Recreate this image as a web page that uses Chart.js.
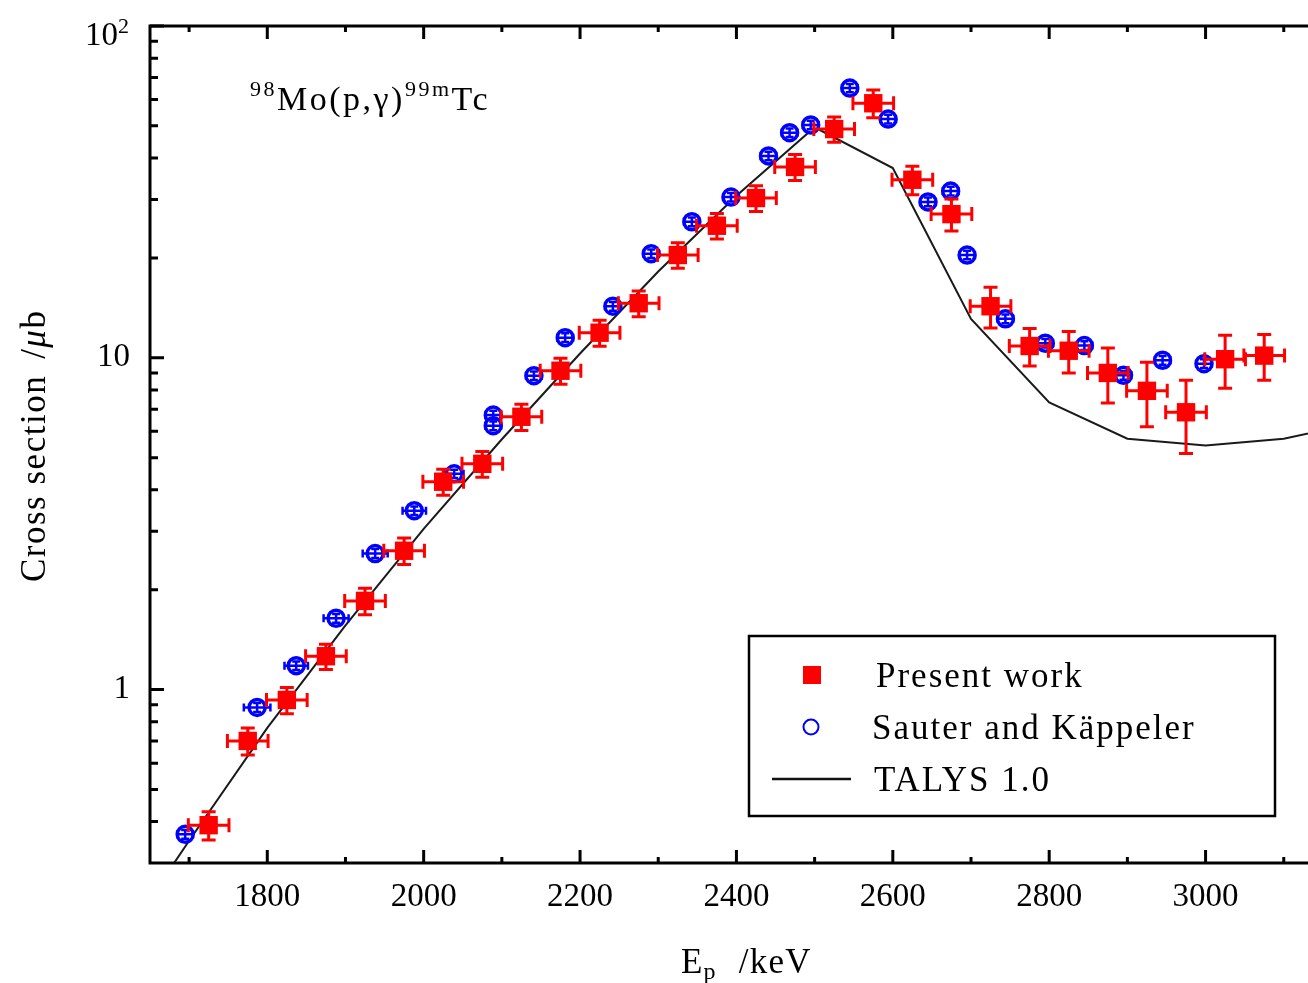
<!DOCTYPE html>
<html>
<head>
<meta charset="utf-8">
<title>98Mo(p,γ)99mTc cross section</title>
<script src="https://cdn.jsdelivr.net/npm/chart.js@4.4.1/dist/chart.umd.min.js"></script>
<style>
    html, body { margin: 0; padding: 0; background: #fff; }
    canvas { display: block; }
</style>
</head>
<body>
<canvas id="crossSectionChart" width="1308" height="983"></canvas>
<script>
// proton energy (keV) and cross section (microbarn)
const present_energy = [1725, 1775, 1825, 1875, 1925, 1975, 2025, 2075, 2125, 2175, 2225, 2275, 2325, 2375,
    2425, 2475, 2525, 2575, 2625, 2675, 2725, 2775, 2825, 2875, 2925, 2975, 3025, 3075];
const present_sigma = [0.39, 0.70, 0.93, 1.26, 1.85, 2.62, 4.23, 4.79, 6.64, 9.14, 11.9, 14.6, 20.4, 25.0,
    30.3, 37.6, 48.9, 58.5, 34.4, 27.1, 14.3, 10.85, 10.5, 9.0, 7.95, 6.85, 9.9, 10.15];
const present_sigma_err = [0.038, 0.065, 0.085, 0.11, 0.17, 0.24, 0.38, 0.43, 0.6, 0.82, 1.07, 1.3, 1.8, 2.2,
    2.7, 3.4, 4.3, 5.6, 3.4, 3.0, 2.0, 1.4, 1.5, 1.7, 1.75, 1.7, 1.8, 1.6];
const present_energy_err = 26;

const sauter_energy = [1695, 1787, 1837, 1888, 1938, 1988, 2039, 2089, 2089, 2141, 2181, 2242, 2291, 2343,
    2393, 2441, 2468, 2495, 2545, 2594, 2645, 2674, 2695, 2744, 2795, 2845, 2895, 2945, 2998];
const sauter_sigma = [0.366, 0.883, 1.18, 1.64, 2.57, 3.46, 4.47, 6.72, 6.24, 8.83, 11.5, 14.3, 20.6, 25.7,
    30.5, 40.6, 47.7, 50.3, 65.0, 52.4, 29.5, 31.8, 20.4, 13.1, 11.06, 10.88, 8.85, 9.83, 9.6];
const sauter_sigma_err = [0.011, 0.027, 0.035, 0.05, 0.08, 0.1, 0.13, 0.2, 0.19, 0.26, 0.35, 0.43, 0.6, 0.77,
    0.9, 1.2, 1.4, 1.5, 1.9, 1.6, 0.9, 0.95, 0.6, 0.4, 0.33, 0.33, 0.27, 0.3, 0.29];
const sauter_energy_err = [10, 17, 15, 16, 16, 15, 12, 10, 10, 10, 10, 10, 10, 10,
    10, 10, 10, 10, 10, 10, 10, 10, 10, 10, 10, 10, 10, 10, 10];

const talys_energy = [1650, 1700, 1800, 1900, 2000, 2100, 2200, 2300, 2400, 2500, 2600, 2700, 2800, 2900, 3000, 3100, 3200];
const talys_sigma = [0.234, 0.350, 0.766, 1.56, 3.05, 5.68, 10.3, 18.2, 30.8, 49.5, 37.3, 13.1, 7.33, 5.70, 5.44, 5.70, 6.4];

const x_major_ticks = [1800, 2000, 2200, 2400, 2600, 2800, 3000];
const x_minor_ticks = [1700, 1900, 2100, 2300, 2500, 2700, 2900, 3100];
const y_major_ticks = [1, 10, 100];
const y_minor_ticks = [0.4, 0.5, 0.6, 0.7, 0.8, 0.9, 2, 3, 4, 5, 6, 7, 8, 9, 20, 30, 40, 50, 60, 70, 80, 90];
const y_tick_labels = {1: '1', 10: '10'};

const serif = '"Liberation Serif", "DejaVu Serif", serif';

function to_points(xs, ys) {
    return xs.map((x, i) => ({x: x, y: ys[i]}));
}

function pick(v, i) {
    return Array.isArray(v) ? v[i] : v;
}

// horizontal + vertical error bars, drawn right after their own dataset
const error_bars = {
    id: 'error_bars',
    afterDatasetDraw(chart, args) {
        const ds = chart.data.datasets[args.index];
        if (!ds.errors) return;
        const e = ds.errors;
        const xs = chart.scales.x;
        const ys = chart.scales.y;
        const ctx = chart.ctx;
        const area = chart.chartArea;
        ctx.save();
        ctx.beginPath();
        ctx.rect(area.left, area.top, area.right - area.left, area.bottom - area.top);
        ctx.clip();
        ctx.strokeStyle = e.color;
        ctx.lineWidth = e.width;
        ctx.lineCap = 'butt';
        ds.data.forEach((p, i) => {
            const px = xs.getPixelForValue(p.x);
            const py = ys.getPixelForValue(p.y);
            const x0 = xs.getPixelForValue(p.x - pick(e.dx, i));
            const x1 = xs.getPixelForValue(p.x + pick(e.dx, i));
            const y0 = ys.getPixelForValue(p.y - pick(e.dy, i));
            const y1 = ys.getPixelForValue(p.y + pick(e.dy, i));
            const c = e.cap;
            ctx.beginPath();
            ctx.moveTo(x0, py); ctx.lineTo(x1, py);
            ctx.moveTo(x0, py - c); ctx.lineTo(x0, py + c);
            ctx.moveTo(x1, py - c); ctx.lineTo(x1, py + c);
            ctx.moveTo(px, y0); ctx.lineTo(px, y1);
            ctx.moveTo(px - c, y0); ctx.lineTo(px + c, y0);
            ctx.moveTo(px - c, y1); ctx.lineTo(px + c, y1);
            ctx.stroke();
        });
        ctx.restore();
    }
};

// box on three sides with inward ticks
const frame_axes = {
    id: 'frame_axes',
    afterDraw(chart) {
        const ctx = chart.ctx;
        const a = chart.chartArea;
        const xs = chart.scales.x;
        const ys = chart.scales.y;
        ctx.save();
        ctx.strokeStyle = '#000';
        ctx.lineWidth = 3;
        ctx.lineCap = 'square';
        ctx.beginPath();
        ctx.moveTo(a.right + 2, a.top);
        ctx.lineTo(a.left, a.top);
        ctx.lineTo(a.left, a.bottom);
        ctx.lineTo(a.right + 2, a.bottom);
        ctx.stroke();

        ctx.lineCap = 'butt';
        ctx.beginPath();
        const x_tick = (v, len) => {
            const px = xs.getPixelForValue(v);
            ctx.moveTo(px, a.bottom); ctx.lineTo(px, a.bottom - len);
            ctx.moveTo(px, a.top); ctx.lineTo(px, a.top + len);
        };
        const y_tick = (v, len) => {
            const py = ys.getPixelForValue(v);
            ctx.moveTo(a.left, py); ctx.lineTo(a.left + len, py);
        };
        x_major_ticks.forEach(v => x_tick(v, 13));
        x_minor_ticks.forEach(v => x_tick(v, 6));
        y_major_ticks.forEach(v => y_tick(v, 14));
        y_minor_ticks.forEach(v => y_tick(v, 8));
        ctx.stroke();

        // 10^2 label at the top of the y axis
        const top = ys.getPixelForValue(100);
        ctx.fillStyle = '#000';
        ctx.textBaseline = 'alphabetic';
        ctx.textAlign = 'right';
        ctx.font = '33px ' + serif;
        ctx.fillText('10', 118, top + 19);
        ctx.textAlign = 'left';
        ctx.font = '22px ' + serif;
        ctx.fillText('2', 118, top + 7);
        ctx.restore();
    }
};

function draw_pieces(ctx, pieces, x, y) {
    pieces.forEach(p => {
        ctx.font = (p.italic ? 'italic ' : '') + p.size + 'px ' + serif;
        ctx.fillText(p.text, x, y + (p.dy || 0));
        x += ctx.measureText(p.text).width + (p.gap || 0);
    });
}

// axis titles, reaction label and legend box
const labels_and_legend = {
    id: 'labels_and_legend',
    afterDraw(chart) {
        const ctx = chart.ctx;
        ctx.save();
        ctx.fillStyle = '#000';
        ctx.textBaseline = 'alphabetic';
        ctx.textAlign = 'left';

        ctx.letterSpacing = '2.5px';
        draw_pieces(ctx, [
            {text: '98', size: 22, dy: -14},
            {text: 'Mo(p,γ)', size: 34},
            {text: '99m', size: 22, dy: -14},
            {text: 'Tc', size: 34}
        ], 250, 110);

        ctx.letterSpacing = '1.2px';
        draw_pieces(ctx, [
            {text: 'E', size: 35},
            {text: 'p', size: 24, dy: 6, gap: 22},
            {text: '/keV', size: 35}
        ], 681, 973);

        ctx.save();
        ctx.translate(45, 582);
        ctx.rotate(-Math.PI / 2);
        ctx.letterSpacing = '1.5px';
        draw_pieces(ctx, [
            {text: 'Cross section', size: 35, gap: 16},
            {text: '/', size: 35},
            {text: 'μ', size: 35, italic: true},
            {text: 'b', size: 35}
        ], 0, 0);
        ctx.restore();

        // legend
        ctx.strokeStyle = '#000';
        ctx.lineWidth = 2.5;
        ctx.strokeRect(749, 636, 526, 180);

        ctx.fillStyle = '#ff0000';
        ctx.fillRect(803, 666, 18, 18);

        ctx.strokeStyle = '#0000ff';
        ctx.lineWidth = 2;
        ctx.beginPath();
        ctx.arc(811, 727, 7.5, 0, Math.PI * 2);
        ctx.stroke();

        ctx.strokeStyle = '#111';
        ctx.lineWidth = 2.5;
        ctx.beginPath();
        ctx.moveTo(772, 779);
        ctx.lineTo(851, 779);
        ctx.stroke();

        ctx.fillStyle = '#000';
        ctx.font = '35px ' + serif;
        ctx.letterSpacing = '2px';
        ctx.fillText('Present work', 876, 687);
        ctx.fillText('Sauter and Käppeler', 872, 739);
        ctx.fillText('TALYS 1.0', 874, 791);
        ctx.restore();
    }
};

window.addEventListener('load', function () {
    const ctx = document.getElementById('crossSectionChart').getContext('2d');
    new Chart(ctx, {
        type: 'scatter',
        data: {
            datasets: [
                {
                    label: 'Present work',
                    data: to_points(present_energy, present_sigma),
                    pointStyle: 'rect',
                    pointRadius: 13,
                    borderWidth: 0,
                    backgroundColor: '#ff0000',
                    borderColor: '#ff0000',
                    errors: {dx: present_energy_err, dy: present_sigma_err, cap: 7, width: 3, color: '#ff0000'}
                },
                {
                    label: 'Sauter and Käppeler',
                    data: to_points(sauter_energy, sauter_sigma),
                    pointStyle: 'circle',
                    pointRadius: 8,
                    borderWidth: 3.5,
                    backgroundColor: '#ffffff',
                    borderColor: '#0000ff',
                    errors: {dx: sauter_energy_err, dy: sauter_sigma_err, cap: 4, width: 2.5, color: '#0000ff'}
                },
                {
                    label: 'TALYS 1.0',
                    data: to_points(talys_energy, talys_sigma),
                    showLine: true,
                    pointRadius: 0,
                    borderWidth: 2,
                    borderColor: '#1a1a1a',
                    tension: 0
                }
            ]
        },
        options: {
            responsive: false,
            animation: false,
            devicePixelRatio: 1,
            layout: {
                autoPadding: false,
                padding: {top: 26, right: 0, bottom: 0, left: 0}
            },
            plugins: {
                legend: {display: false},
                tooltip: {enabled: false}
            },
            scales: {
                x: {
                    type: 'linear',
                    min: 1650,
                    max: 3131,
                    grid: {display: false, drawTicks: false},
                    border: {display: false},
                    afterBuildTicks: function (scale) {
                        scale.ticks = x_major_ticks.map(v => ({value: v}));
                    },
                    afterFit: function (scale) {
                        scale.height = 120;
                        scale.paddingLeft = 0;
                        scale.paddingRight = 0;
                    },
                    ticks: {
                        padding: 15,
                        color: '#000',
                        font: {family: serif, size: 33},
                        callback: v => String(v)
                    }
                },
                y: {
                    type: 'logarithmic',
                    min: 0.3,
                    max: 100,
                    grid: {display: false, drawTicks: false},
                    border: {display: false},
                    afterBuildTicks: function (scale) {
                        scale.ticks = y_major_ticks.map(v => ({value: v}));
                    },
                    afterFit: function (scale) {
                        scale.width = 150;
                        scale.paddingTop = 0;
                        scale.paddingBottom = 0;
                    },
                    ticks: {
                        padding: 20,
                        color: '#000',
                        font: {family: serif, size: 33},
                        callback: v => y_tick_labels[v] || ''
                    }
                }
            }
        },
        plugins: [error_bars, frame_axes, labels_and_legend]
    });
});
</script>
</body>
</html>
